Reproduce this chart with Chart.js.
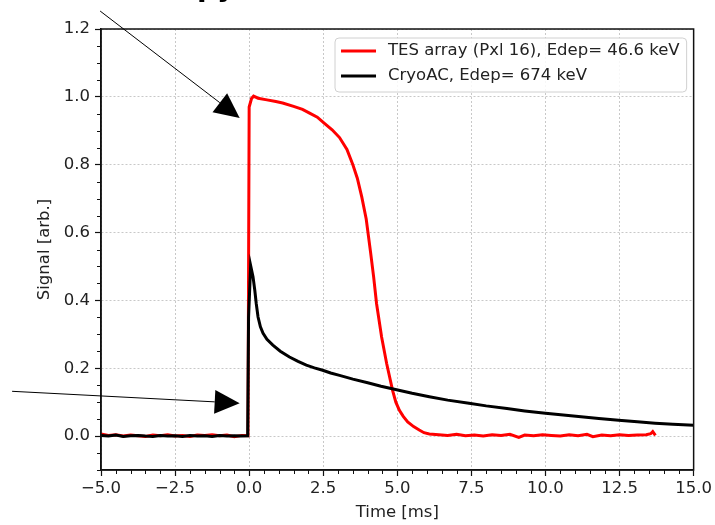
<!DOCTYPE html>
<html lang="en">
<head>
<meta charset="UTF-8" />
<title>TES array vs CryoAC pulse</title>
<script src="https://cdn.jsdelivr.net/npm/chart.js"></script>
<style>
  body { margin: 0; background: #fff; }
</style>
</head>
<body>
<canvas id="pulseChart" width="715" height="525"></canvas>
<script>
  // values (time in ms, signal in arb. units)
  const tesTime = [-5.0, -4.75, -4.5, -4.25, -4.0, -3.75, -3.5, -3.25, -3.0, -2.75, -2.5, -2.25, -2.0, -1.75, -1.5, -1.25, -1.0, -0.75, -0.5, -0.25, -0.04,
    0.0, 0.08, 0.15, 0.3, 0.6, 0.9, 1.13, 1.5, 1.8, 2.04, 2.3, 2.54, 2.8, 3.05, 3.3, 3.5, 3.65, 3.8, 3.95, 4.1, 4.2, 4.3, 4.47, 4.64, 4.84, 4.95, 5.07, 5.2, 5.35, 5.55, 5.74, 5.9, 6.08,
    6.4, 6.7, 7.0, 7.3, 7.6, 7.9, 8.2, 8.5, 8.8, 9.1, 9.3, 9.6, 9.9, 10.2, 10.5, 10.8, 11.1, 11.4, 11.6, 11.9, 12.2, 12.5, 12.8, 13.1, 13.4, 13.55, 13.62, 13.71];
  const tesSignal = [0.006, 0.002, 0.004, 0.0, 0.003, 0.001, -0.001, 0.003, 0.001, 0.004, 0.0, 0.002, -0.001, 0.003, 0.002, 0.004, 0.001, 0.003, -0.002, 0.002, 0.001,
    0.97, 0.995, 1.002, 0.996, 0.991, 0.986, 0.982, 0.972, 0.963, 0.952, 0.94, 0.922, 0.903, 0.88, 0.845, 0.80, 0.76, 0.705, 0.64, 0.54, 0.47, 0.39, 0.292, 0.214, 0.135, 0.10, 0.076, 0.058, 0.042, 0.028, 0.018, 0.01, 0.006,
    0.004, 0.002, 0.005, 0.001, 0.003, 0.0, 0.004, 0.002, 0.005, -0.004, 0.003, 0.001, 0.004, 0.002, 0.0, 0.004, 0.001, 0.005, -0.002, 0.003, 0.001, 0.004, 0.002, 0.003, 0.004, 0.007, 0.013, 0.002];

  const cryoTime = [-5.0, -4.75, -4.5, -4.25, -4.0, -3.75, -3.5, -3.25, -3.0, -2.75, -2.5, -2.25, -2.0, -1.75, -1.5, -1.25, -1.0, -0.75, -0.5, -0.25, -0.05,
    -0.02, 0.05, 0.13, 0.19, 0.24, 0.3, 0.38, 0.47, 0.6, 0.8, 1.05, 1.36, 1.65, 1.93, 2.2, 2.48, 2.75, 3.05, 3.5, 4.0, 4.45, 4.9, 5.5, 6.08, 6.7, 7.42,
    8.0, 8.7, 9.3, 10.0, 10.6, 11.2, 11.8, 12.47, 13.1, 13.7, 14.3, 15.0];
  const cryoSignal = [0.002, 0.0, 0.003, -0.001, 0.001, 0.002, 0.0, -0.001, 0.002, 0.0, 0.001, -0.001, 0.002, 0.0, 0.001, -0.001, 0.002, 0.0, 0.001, 0.0, 0.001,
    0.35, 0.503, 0.47, 0.43, 0.39, 0.351, 0.322, 0.303, 0.285, 0.268, 0.25, 0.233, 0.22, 0.209, 0.201, 0.194, 0.186, 0.179, 0.168, 0.157, 0.147, 0.138, 0.126, 0.116, 0.106, 0.097,
    0.089, 0.081, 0.074, 0.067, 0.062, 0.057, 0.052, 0.047, 0.042, 0.038, 0.035, 0.032];

  const seriesLabels = ["TES array (Pxl 16), Edep= 46.6 keV", "CryoAC, Edep= 674 keV"];
  const seriesColors = ["#ff0000", "#000000"];

  const xTicks = [-5, -2.5, 0, 2.5, 5, 7.5, 10, 12.5, 15];
  const yTicks = [0, 0.2, 0.4, 0.6, 0.8, 1.0, 1.2];

  // annotation arrows in data units: [tailX, tailY, tipX, tipY]
  const arrows = [[-5.03, 1.253, -0.32, 0.938], [-8.0, 0.132, -0.32, 0.097]];

  const fmt = v => (v < 0 ? "\u2212" : "") + Math.abs(v).toFixed(1);
  const font = { family: "DejaVu Sans", size: 16.5 };

  const extras = {
    id: "extras",
    afterDatasetsDraw(chart) {
      const { ctx, chartArea: a, scales: { x, y } } = chart;
      ctx.save();

      // box around the axes
      ctx.strokeStyle = "#111";
      ctx.lineWidth = 1.5;
      ctx.strokeRect(a.left, a.top, a.right - a.left, a.bottom - a.top);

      // minor ticks
      ctx.lineWidth = 1;
      ctx.beginPath();
      for (let v = -5; v <= 15.001; v += 0.5) {
        if (Math.abs(v / 2.5 - Math.round(v / 2.5)) < 1e-6) continue;
        const px = Math.round(x.getPixelForValue(v)) + 0.5;
        ctx.moveTo(px, a.bottom); ctx.lineTo(px, a.bottom + 4);
      }
      for (let i = -2; i <= 24; i++) {
        if (i % 4 === 0) continue;
        const py = Math.round(y.getPixelForValue(i * 0.05)) + 0.5;
        ctx.moveTo(a.left, py); ctx.lineTo(a.left - 4, py);
      }
      ctx.stroke();

      // legend box
      ctx.font = "16.5px 'DejaVu Sans'";
      const textW = Math.max(...seriesLabels.map(s => ctx.measureText(s).width));
      const bw = 52 + textW + 8, bh = 54;
      const bx = a.right - 7 - bw, by = a.top + 9;
      ctx.beginPath();
      ctx.roundRect(bx, by, bw, bh, 4);
      ctx.fillStyle = "rgba(255,255,255,0.85)";
      ctx.fill();
      ctx.strokeStyle = "#d0d0d0";
      ctx.lineWidth = 1;
      ctx.stroke();
      ctx.textBaseline = "middle";
      seriesLabels.forEach((s, i) => {
        const ly = by + 13 + i * 25;
        ctx.strokeStyle = seriesColors[i];
        ctx.lineWidth = 3;
        ctx.beginPath(); ctx.moveTo(bx + 6, ly); ctx.lineTo(bx + 41, ly); ctx.stroke();
        ctx.fillStyle = "#222";
        ctx.fillText(s, bx + 53, ly);
      });

      // arrows
      ctx.strokeStyle = "#000";
      ctx.fillStyle = "#000";
      arrows.forEach(([tx, ty, hx, hy]) => {
        const x0 = x.getPixelForValue(tx), y0 = y.getPixelForValue(ty);
        const x1 = x.getPixelForValue(hx), y1 = y.getPixelForValue(hy);
        const ang = Math.atan2(y1 - y0, x1 - x0);
        const len = 25, half = 12;
        const bxp = x1 - len * Math.cos(ang), byp = y1 - len * Math.sin(ang);
        ctx.lineWidth = 1;
        ctx.beginPath(); ctx.moveTo(x0, y0); ctx.lineTo(bxp, byp); ctx.stroke();
        ctx.beginPath();
        ctx.moveTo(x1, y1);
        ctx.lineTo(bxp + half * Math.sin(ang), byp - half * Math.cos(ang));
        ctx.lineTo(bxp - half * Math.sin(ang), byp + half * Math.cos(ang));
        ctx.closePath(); ctx.fill();
      });

      // cut-off heading at the very top of the figure
      ctx.font = "bold 28px 'DejaVu Sans'";
      ctx.textBaseline = "alphabetic";
      ctx.fillStyle = "#000";
      ctx.fillText("py", 197, -4);

      ctx.restore();
    }
  };

  const ctx = document.getElementById("pulseChart").getContext("2d");
  new Chart(ctx, {
    type: "line",
    data: {
      datasets: [
        {
          label: seriesLabels[0],
          data: tesTime.map((t, i) => ({ x: t, y: tesSignal[i] })),
          borderColor: seriesColors[0],
          borderWidth: 3,
          pointRadius: 0,
          order: 1
        },
        {
          label: seriesLabels[1],
          data: cryoTime.map((t, i) => ({ x: t, y: cryoSignal[i] })),
          borderColor: seriesColors[1],
          borderWidth: 3,
          pointRadius: 0,
          order: 0
        }
      ]
    },
    options: {
      responsive: false,
      animation: false,
      layout: { padding: { top: 29, right: 20, left: 0, bottom: 0 } },
      plugins: { legend: { display: false }, tooltip: { enabled: false } },
      scales: {
        x: {
          type: "linear",
          min: -5, max: 15,
          afterFit: s => { s.height = 55; },
          afterBuildTicks: s => { s.ticks = xTicks.map(v => ({ value: v })); },
          ticks: { callback: v => fmt(v), color: "#222", font: font, padding: 3, maxRotation: 0, autoSkip: false },
          grid: { color: "#c8c8c8", lineWidth: 1, tickColor: "#111", tickLength: 6, tickWidth: 1.2 },
          border: { color: "#111", width: 1.5, dash: [2, 2] },
          title: { display: true, text: "Time [ms]", color: "#222", font: font, padding: { top: 0, bottom: 2 } }
        },
        y: {
          min: -0.1, max: 1.2,
          afterFit: s => { s.width = 101; },
          afterBuildTicks: s => { s.ticks = yTicks.map(v => ({ value: v })); },
          ticks: { callback: v => fmt(v), color: "#222", font: font, padding: 5, autoSkip: false },
          grid: { color: "#c8c8c8", lineWidth: 1, tickColor: "#111", tickLength: 6, tickWidth: 1.2 },
          border: { color: "#111", width: 1.5, dash: [2, 2] },
          title: { display: true, text: "Signal [arb.]", color: "#222", font: font, padding: { top: 35, bottom: 0 } }
        }
      }
    },
    plugins: [extras]
  });
</script>
</body>
</html>
